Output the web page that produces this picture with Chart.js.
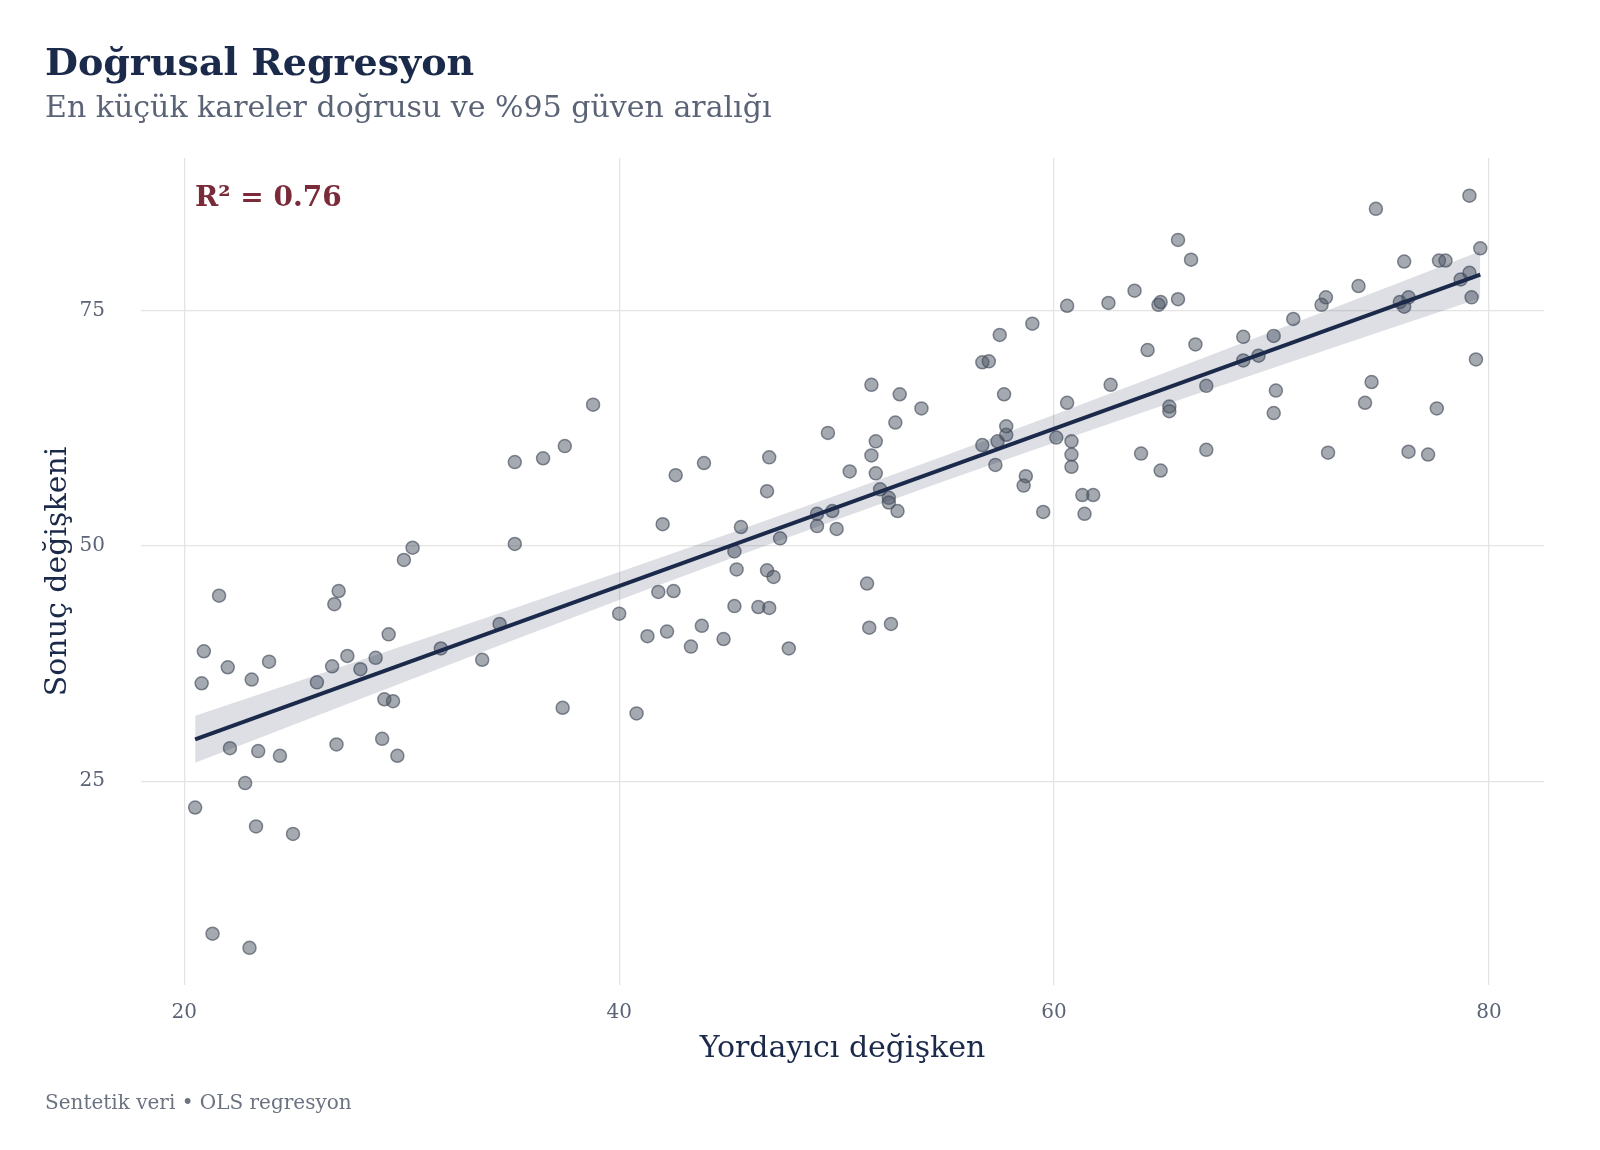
<!DOCTYPE html>
<html>
<head>
<meta charset="utf-8">
<script src="https://cdn.jsdelivr.net/npm/chart.js@4.4.1/dist/chart.umd.min.js"></script>
<style>
  body { margin: 0; background: #ffffff; }
  #wrap { position: relative; width: 1600px; height: 1150px; overflow: hidden; }
  #myChart { position: absolute; left: 0; top: 0; }
  .txt { position: absolute; left: 45px; font-family: "DejaVu Serif", serif; white-space: nowrap; line-height: 1; }
  #title { top: 43.3px; font-size: 38px; font-weight: bold; color: #1b2a4a; }
  #subtitle { top: 91.6px; font-size: 30px; color: #5b6477; }
  #r2 { left: 195px; top: 183px; font-size: 28px; font-weight: bold; color: #7b2a3a; }
  #caption { top: 1092px; font-size: 20px; color: #6b7280; }
</style>
</head>
<body>
<div id="wrap">
  <canvas id="myChart" width="1600" height="1150"></canvas>
  <div class="txt" id="title">Doğrusal Regresyon</div>
  <div class="txt" id="subtitle">En küçük kareler doğrusu ve %95 güven aralığı</div>
  <div class="txt" id="r2">R² = 0.76</div>
  <div class="txt" id="caption">Sentetik veri • OLS regresyon</div>
</div>
<script>
  // data block
  const predictor = [
    20.5, 20.8, 20.9, 21.3, 21.6, 22.0, 22.1, 22.8, 23.0, 23.1,
    23.3, 23.4, 23.9, 24.4, 25.0, 26.1, 26.8, 26.9, 27.0, 27.1,
    27.5, 28.1, 28.8, 29.1, 29.2, 29.4, 29.6, 29.8, 30.1, 30.5,
    31.8, 33.7, 34.5, 35.2, 35.2, 36.5, 37.4, 37.5, 38.8, 40.0,
    40.8, 41.3, 41.8, 42.0, 42.2, 42.5, 42.6, 43.3, 43.8, 43.9,
    44.8, 45.3, 45.3, 45.4, 45.6, 46.4, 46.8, 46.8, 46.9, 46.9,
    47.1, 47.4, 47.8, 49.1, 49.1, 49.6, 49.8, 50.0, 50.6, 51.4,
    51.5, 51.6, 51.6, 51.8, 51.8, 52.0, 52.4, 52.4, 52.5, 52.7,
    52.8, 52.9, 53.9, 56.7, 57.3, 57.4, 57.8, 58.7, 58.6, 59.5,
    60.1, 60.8, 60.8, 60.8, 60.6, 59.0, 57.5, 56.7, 57.0, 57.7,
    60.6, 57.8, 62.5, 63.7, 64.8, 64.9, 65.7, 65.7, 66.3, 64.3,
    66.5, 62.6, 67.0, 65.3, 65.3, 68.7, 70.1, 68.7, 69.4, 71.0,
    70.2, 70.1, 72.3, 72.5, 74.0, 74.8, 76.1, 77.7, 78.0, 79.1,
    79.6, 79.1, 78.7, 75.9, 76.3, 76.1, 79.2, 79.4, 74.6, 74.3,
    77.6, 64.0, 64.9, 67.0, 61.3, 61.8, 61.4, 72.6, 76.3, 77.2
  ];
  const outcome = [
    22.2, 35.4, 38.8, 8.8, 44.7, 37.1, 28.5, 24.8, 7.3, 35.8,
    20.2, 28.2, 37.7, 27.7, 19.4, 35.5, 37.2, 43.8, 28.9, 45.2,
    38.3, 36.9, 38.1, 29.5, 33.7, 40.6, 33.5, 27.7, 48.5, 49.8,
    39.1, 37.9, 41.7, 50.2, 58.9, 59.3, 32.8, 60.6, 65.0, 42.8,
    32.2, 40.4, 45.1, 52.3, 40.9, 45.2, 57.5, 39.3, 41.5, 58.8,
    40.1, 43.6, 49.4, 47.5, 52.0, 43.5, 55.8, 47.4, 43.4, 59.4,
    46.7, 50.8, 39.1, 52.1, 53.4, 62.0, 53.7, 51.8, 57.9, 46.0,
    41.3, 59.6, 67.1, 57.7, 61.1, 56.0, 55.1, 54.6, 41.7, 63.1,
    53.7, 66.1, 64.6, 60.7, 58.6, 61.1, 61.8, 57.4, 56.4, 53.6,
    61.5, 61.1, 59.7, 58.4, 75.5, 73.6, 72.4, 69.5, 69.6, 66.1,
    65.2, 62.7, 75.8, 77.1, 75.6, 75.9, 76.2, 82.5, 80.4, 70.8,
    71.4, 67.1, 67.0, 64.8, 64.3, 72.2, 72.3, 69.7, 70.2, 74.1,
    66.5, 64.1, 75.6, 76.4, 77.6, 85.8, 80.2, 80.3, 80.3, 87.2,
    81.6, 79.0, 78.3, 75.9, 76.4, 75.4, 76.4, 69.8, 67.4, 65.2,
    64.6, 59.8, 58.0, 60.2, 55.4, 55.4, 53.4, 59.9, 60.0, 59.7
  ];
  // fitted line and 95% band
  const fitX = [20.5, 79.6];
  const fitY = [29.45, 78.8];
  const bandX = [20.5, 25, 30, 35, 40, 45, 50, 55, 60, 65, 70, 75, 79.6];
  const bandUpper = [31.95, 35.44, 39.33, 43.25, 47.22, 51.26, 55.38, 59.61, 63.92, 68.30, 72.73, 77.19, 81.30];
  const bandLower = [26.95, 30.98, 35.43, 39.87, 44.24, 48.56, 52.78, 56.91, 60.94, 64.92, 68.83, 72.73, 76.30];
  const xTicks = [20, 40, 60, 80];
  const yTicks = [25, 50, 75];

  // setup block
  const toXY = (xs, ys) => xs.map((x, i) => ({ x: x, y: ys[i] }));
  Chart.defaults.font.family = '"DejaVu Serif", serif';

  const data = {
    datasets: [
      {
        type: 'line',
        data: toXY(fitX, fitY),
        borderColor: '#1b2a4a',
        borderWidth: 4,
        pointRadius: 0,
        fill: false,
        order: 1
      },
      {
        type: 'line',
        data: toXY(bandX, bandUpper),
        borderColor: 'rgba(0,0,0,0)',
        borderWidth: 0,
        pointRadius: 0,
        fill: '+1',
        backgroundColor: 'rgba(28,43,74,0.15)',
        order: 2
      },
      {
        type: 'line',
        data: toXY(bandX, bandLower),
        borderColor: 'rgba(0,0,0,0)',
        borderWidth: 0,
        pointRadius: 0,
        fill: false,
        order: 2
      },
      {
        data: toXY(predictor, outcome),
        pointRadius: 6.5,
        borderWidth: 1.5,
        backgroundColor: 'rgba(75,85,99,0.5)',
        borderColor: 'rgba(70,78,94,0.65)',
        order: 3
      }
    ]
  };

  const tickFont = { family: '"DejaVu Serif", serif', size: 20 };
  const titleFont = { family: '"DejaVu Serif", serif', size: 30 };

  const config = {
    type: 'scatter',
    data: data,
    options: {
      responsive: false,
      animation: false,
      layout: { padding: { left: 36, right: 56, top: 158, bottom: 79 } },
      plugins: {
        legend: { display: false },
        tooltip: { enabled: false }
      },
      scales: {
        x: {
          type: 'linear',
          min: 18.01,
          max: 82.53,
          afterBuildTicks: s => { s.ticks = xTicks.map(v => ({ value: v })); },
          afterFit: s => { s.height = 86; },
          grid: { color: '#e4e4e4', lineWidth: 1.3, drawTicks: false },
          border: { display: false },
          ticks: { padding: 16, color: '#5b6477', font: tickFont },
          title: { display: true, text: 'Yordayıcı değişken', color: '#1b2a4a', font: titleFont, padding: { top: 4, bottom: 4 } }
        },
        y: {
          type: 'linear',
          min: 3.35,
          max: 91.2,
          afterBuildTicks: s => { s.ticks = yTicks.map(v => ({ value: v })); },
          afterFit: s => { s.width = 105; },
          grid: { color: '#e4e4e4', lineWidth: 1.3, drawTicks: false },
          border: { display: false },
          ticks: { padding: 36, color: '#5b6477', font: tickFont },
          title: { display: true, text: 'Sonuç değişkeni', color: '#1b2a4a', font: titleFont, padding: { top: 4, bottom: 4 } }
        }
      }
    }
  };

  const myChart = new Chart(document.getElementById('myChart'), config);
</script>
</body>
</html>
